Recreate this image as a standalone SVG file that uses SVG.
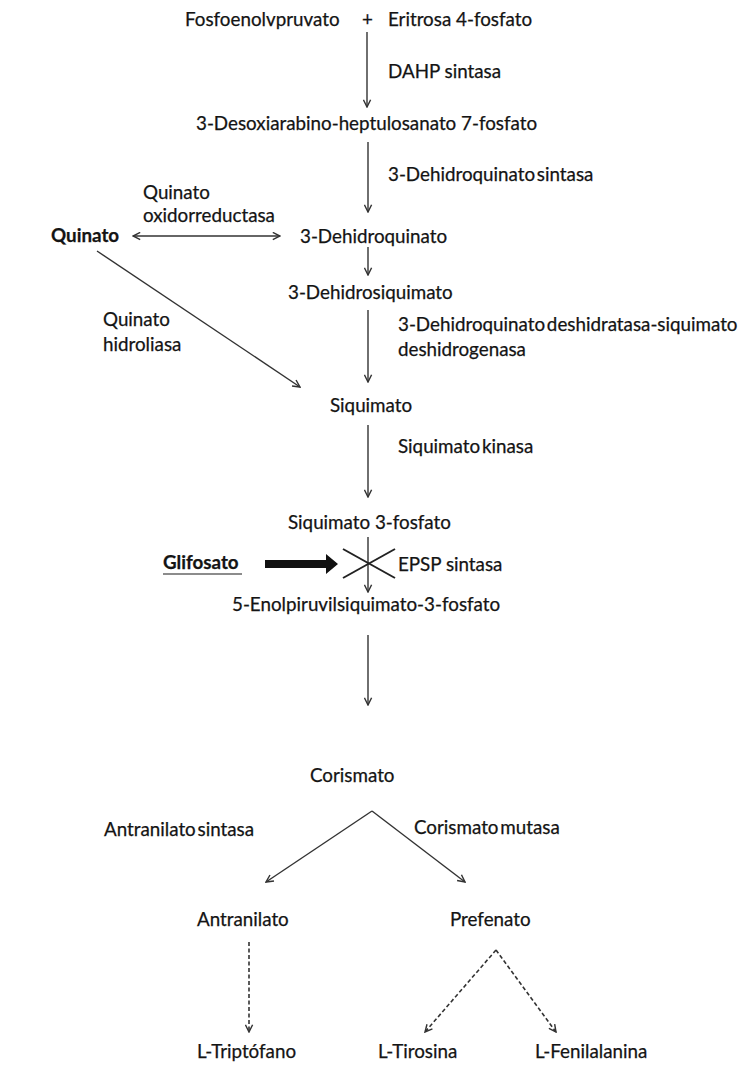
<svg xmlns="http://www.w3.org/2000/svg" width="751" height="1075" viewBox="0 0 751 1075">
<style>
text{font-family:Lato,"Open Sans","Liberation Sans",sans-serif;font-size:18.8px;fill:#141414;stroke:#141414;stroke-width:0.25}
.b{font-weight:bold}
.t{word-spacing:-3px}
.c{stroke:#333;stroke-width:1.4;fill:none}
.d{stroke-dasharray:4,2.5;stroke-width:1.6}
</style>
<defs>
<marker id="a" viewBox="0 0 10 10" refX="9" refY="5" markerWidth="9" markerHeight="9" markerUnits="userSpaceOnUse" orient="auto-start-reverse">
<path d="M1,1 L9,5 L1,9" fill="none" stroke="#333" stroke-width="1.6"/>
</marker>
</defs>
<rect width="751" height="1075" fill="#fff"/>
<g id="n-pep"><text x="185" y="26">Fosfoenolvpruvato</text></g>
<g id="n-plus"><text x="362" y="26">+</text></g>
<g id="n-e4p"><text x="388" y="26">Eritrosa 4-fosfato</text></g>
<g id="l-dahp"><text x="388" y="78">DAHP sintasa</text></g>
<g id="n-dahp"><text x="196" y="130">3-Desoxiarabino-heptulosanato 7-fosfato</text></g>
<g id="l-dhqs"><text class="t" x="388" y="181">3-Dehidroquinato sintasa</text></g>
<g id="l-qox"><text x="143" y="199">Quinato</text><text x="143" y="222">oxidorreductasa</text></g>
<g id="n-quinato"><text class="b" x="51" y="242">Quinato</text></g>
<g id="n-dhq"><text x="300" y="243">3-Dehidroquinato</text></g>
<g id="n-dhs"><text x="288" y="299">3-Dehidrosiquimato</text></g>
<g id="l-dhqd"><text class="t" x="398" y="331">3-Dehidroquinato deshidratasa-siquimato</text><text x="398" y="356">deshidrogenasa</text></g>
<g id="l-qh"><text x="103" y="326">Quinato</text><text x="103" y="351">hidroliasa</text></g>
<g id="n-siq"><text x="330" y="412">Siquimato</text></g>
<g id="l-sk"><text class="t" x="398" y="453">Siquimato kinasa</text></g>
<g id="n-s3p"><text x="288" y="529">Siquimato 3-fosfato</text></g>
<g id="n-gli"><text class="b" x="163" y="569">Glifosato</text><line x1="163" y1="574" x2="242" y2="574" stroke="#1a1a1a" stroke-width="1.2"/></g>
<g id="l-epsp"><text x="398" y="571">EPSP sintasa</text></g>
<g id="n-epsp"><text x="232" y="611">5-Enolpiruvilsiquimato-3-fosfato</text></g>
<g id="n-cor"><text x="310" y="782">Corismato</text></g>
<g id="l-as"><text class="t" x="104" y="836">Antranilato sintasa</text></g>
<g id="l-cm"><text class="t" x="414" y="834">Corismato mutasa</text></g>
<g id="n-ant"><text x="197" y="926">Antranilato</text></g>
<g id="n-pre"><text x="450" y="926">Prefenato</text></g>
<g id="n-trp"><text x="197" y="1058">L-Triptófano</text></g>
<g id="n-tyr"><text x="378" y="1058">L-Tirosina</text></g>
<g id="n-phe"><text x="535" y="1058">L-Fenilalanina</text></g>
<g id="connectors">
<line class="c" x1="367" y1="32" x2="367" y2="107" marker-end="url(#a)"/>
<line class="c" x1="368" y1="142" x2="368" y2="212" marker-end="url(#a)"/>
<line class="c" x1="368" y1="247" x2="368" y2="275" marker-end="url(#a)"/>
<line class="c" x1="368" y1="310" x2="368" y2="382" marker-end="url(#a)"/>
<line class="c" x1="368" y1="425" x2="368" y2="497" marker-end="url(#a)"/>
<line class="c" x1="368" y1="537" x2="368" y2="592" marker-end="url(#a)"/>
<line class="c" x1="368" y1="635" x2="368" y2="705" marker-end="url(#a)"/>
<line class="c" x1="133" y1="236" x2="280" y2="236" marker-start="url(#a)" marker-end="url(#a)"/>
<line class="c" x1="97" y1="251" x2="300" y2="387" marker-end="url(#a)"/>
<line class="c" x1="372" y1="811" x2="266" y2="882" marker-end="url(#a)"/>
<line class="c" x1="372" y1="811" x2="465" y2="882" marker-end="url(#a)"/>
<line class="c d" x1="249" y1="942" x2="249" y2="1032" marker-end="url(#a)"/>
<line class="c d" x1="496" y1="950" x2="425" y2="1032" marker-end="url(#a)"/>
<line class="c d" x1="496" y1="950" x2="556" y2="1032" marker-end="url(#a)"/>
<path d="M265,560 L326,560 L326,554 L338,564 L326,574 L326,568 L265,568 Z" fill="#111"/>
<line x1="343" y1="549" x2="395" y2="578" stroke="#222" stroke-width="2"/>
<line x1="343" y1="578" x2="395" y2="549" stroke="#222" stroke-width="2"/>
</g>
</svg>
